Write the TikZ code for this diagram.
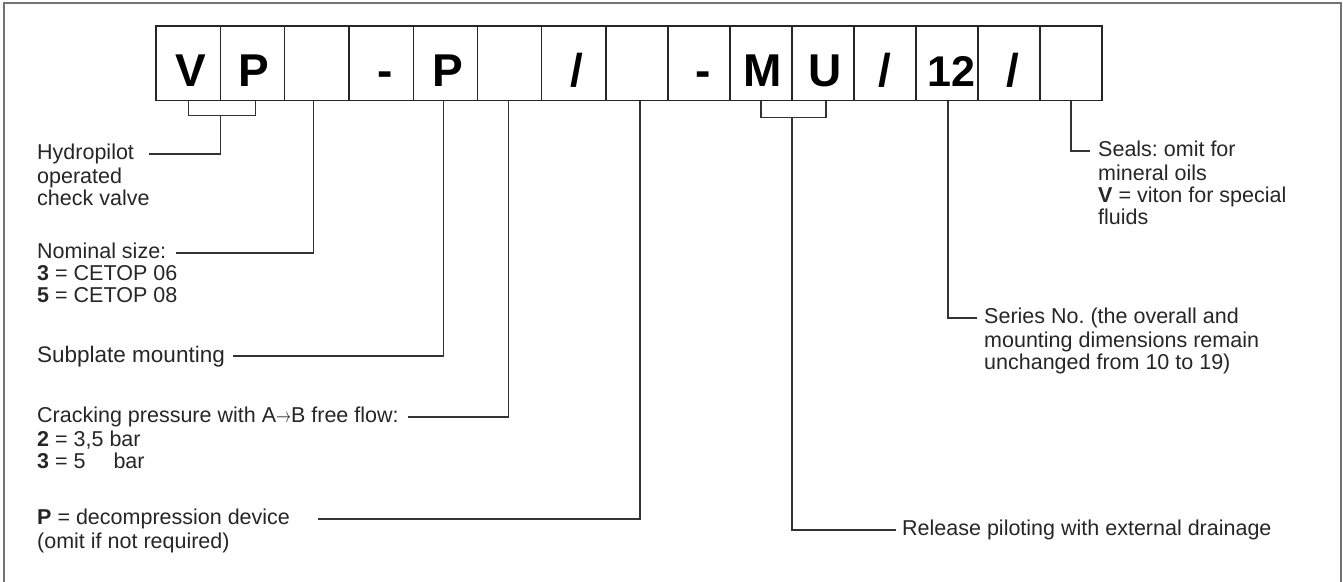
\documentclass[tikz,border=0pt]{standalone}
\usepackage{fontspec}
\usepackage{graphicx}
\setmainfont{Liberation Sans}
\usetikzlibrary{calc}
\frenchspacing
\begin{document}
\begin{tikzpicture}[x=1pt,y=-1pt,
  box/.style={draw=black!85, line width=1.3pt, minimum height=74.7pt, inner sep=0pt},
  boxL/.style={box, minimum width=64.3pt},
  boxR/.style={box, minimum width=62pt},
  lettr/.style={font=\fontsize{46}{46}\selectfont\bfseries, anchor=base, inner sep=0pt, text=black},
  lead/.style={draw=black!80, line width=1.2pt},
  txt/.style={anchor=north west, inner sep=0pt, align=left, font=\fontsize{21.5}{22}\selectfont\frenchspacing, text=black!85},
  frame/.style={draw=black!55, line width=2pt}
]
\useasboundingbox (0,0) rectangle (1343,581);
\draw[frame] (4,3) rectangle (1341,620);

% code boxes
\node[boxL] (b1) at (188.1,63.35) {};
\node[boxL] (b2) at (252.4,63.35) {};
\node[boxL] (b3) at (316.7,63.35) {};
\node[boxL] (b4) at (381.0,63.35) {};
\node[boxL] (b5) at (445.3,63.35) {};
\node[boxL] (b6) at (509.6,63.35) {};
\node[boxL] (b7) at (573.9,63.35) {};
\node[boxR] (b8) at (637,63.35) {};
\node[boxR] (b9) at (699,63.35) {};
\node[boxR] (b10) at (761,63.35) {};
\node[boxR] (b11) at (823,63.35) {};
\node[boxR] (b12) at (885,63.35) {};
\node[boxR] (b13) at (947,63.35) {};
\node[boxR] (b14) at (1009,63.35) {};
\node[boxR] (b15) at (1071,63.35) {};

% letters
\node[lettr] (l1) at ([xshift=3pt,yshift=-22.7pt]b1.center) {V};
\node[lettr] (l2) at ([xshift=1pt,yshift=-22.7pt]b2.center) {P};
\node[lettr] (l4) at ([xshift=4pt,yshift=-22.7pt]b4.center) {-};
\node[lettr] (l5) at ([xshift=3pt,yshift=-22.7pt]b5.center) {P};
\node[lettr] (l7) at ([xshift=3pt,yshift=-22.7pt]b7.center) {/};
\node[lettr] (l9) at ([xshift=4pt,yshift=-22.7pt]b9.center) {-};
\node[lettr] (l10) at ([xshift=2pt,yshift=-22.7pt]b10.center) {M};
\node[lettr] (l11) at ([xshift=2pt,yshift=-22.7pt]b11.center) {U};
\node[lettr] (l12) at ([xshift=0pt,yshift=-22.7pt]b12.center) {/};
\node[lettr, font=\fontsize{43}{43}\selectfont\bfseries] (l13) at ([xshift=4pt,yshift=-22.7pt]b13.center) {12};
\node[lettr] (l14) at ([xshift=4pt,yshift=-22.7pt]b14.center) {/};

% text blocks (left)
\node[txt] (thyd) at (37,144.1) {\strut Hydropilot\\operated\\check valve};
\node[txt] (tnom) at (37,243.1) {\strut Nominal size:\\\textbf{3} = CETOP 06\\\textbf{5} = CETOP 08};
\node[txt, font=\fontsize{22.5}{23}\selectfont] (tsub) at (37,345.6) {\strut Subplate mounting};
\node[txt] (tcrk) at (37,407.1) {\strut Cracking pressure with A\scalebox{0.72}[1]{$\rightarrow$}B free flow:\\\textbf{2} = 3,5 bar\\\textbf{3} = 5\hphantom{,5}\hspace{4pt} bar};
\node[txt] (tdec) at (37,509.1) {\strut\textbf{P} = decompression device\\(omit if not required)};

% text blocks (right)
\node[txt] (tsea) at (1098,141.1) {\strut Seals: omit for\\mineral oils\\\textbf{V} = viton for special\\fluids};
\node[txt] (tser) at (984,308.1) {\strut Series No. (the overall and\\mounting dimensions remain\\unchanged from 10 to 19)};
\node[txt] (trel) at (902,520.1) {\strut Release piloting with external drainage};

% leader end points
\coordinate (chyd) at (149,154);
\coordinate (cnom) at (176,253);
\coordinate (csub) at (233,356);
\coordinate (ccrk) at (408,417);
\coordinate (cdec) at (318,519);
\coordinate (csea) at (1090,151);
\coordinate (cser) at (977,318);
\coordinate (crel) at (896,530);

% connectors
\draw[lead] (b1.south) -- ++(0,14) -| ([xshift=3pt]b2.south);
\draw[lead] ($(b1.south)!0.5!(b2.south)+(0,14)$) |- (chyd);
\draw[lead] ([xshift=-3pt]b3.south) |- (cnom);
\draw[lead] ([xshift=-2pt]b5.south) |- (csub);
\draw[lead] ([xshift=-1.5pt]b6.south) |- (ccrk);
\draw[lead] ([xshift=3pt]b8.south) |- (cdec);
\draw[lead] (b10.south) -- ++(0,16) -| ([xshift=3pt]b11.south);
\draw[lead] ($(b10.south)!0.5!(b11.south)+(0,16)$) |- (crel);
\draw[lead] ([xshift=1pt]b13.south) |- (cser);
\draw[lead] (b15.south) |- (csea);
\end{tikzpicture}
\end{document}
